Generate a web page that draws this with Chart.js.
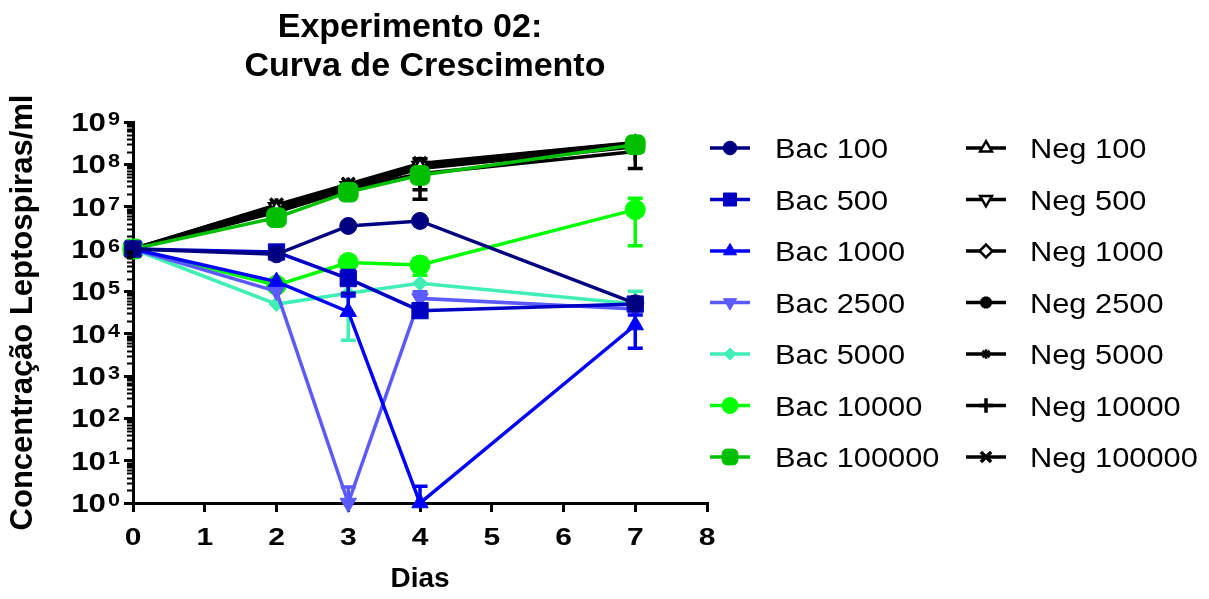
<!DOCTYPE html>
<html>
<head>
<meta charset="utf-8">
<title>Experimento 02: Curva de Crescimento</title>
<script src="https://cdn.jsdelivr.net/npm/chart.js@4.4.1/dist/chart.umd.min.js"></script>
<style>
  html, body { margin: 0; padding: 0; background: #ffffff; }
  #wrap { width: 1209px; height: 599px; }
</style>
</head>
<body>
<div id="wrap"><canvas id="growth" width="1209" height="599"></canvas></div>
<script>
// ---- data ---------------------------------------------------------------
const days = [0, 2, 3, 4, 7];
const xTickValues = [0, 1, 2, 3, 4, 5, 6, 7, 8];
const yDecades = [0, 1, 2, 3, 4, 5, 6, 7, 8, 9];
const titleLines = ['Experimento 02:', 'Curva de Crescimento'];
const xTitle = 'Dias';
const yTitle = 'Concentração Leptospiras/ml';

const bac100    = [1e6, 7.5e5, 3.5e6, 4.6e6, 5.2e4];
const bac500    = [1e6, 8.5e5, 2.0e5, 3.5e4, 5.0e4];
const bac1000   = [1e6, 1.7e5, 3.3e4, 1, 1.6e4];
const bac2500   = [1e6, 1.0e5, 1, 6.8e4, 3.8e4];
const bac5000   = [1e6, 5.0e4, 9.0e4, 1.55e5, 5.0e4];
const bac10000  = [1e6, 1.4e5, 4.8e5, 4.2e5, 8.5e6];
const bac100000 = [1e6, 5.5e6, 2.2e7, 5.5e7, 2.9e8];
const neg100    = [1e6, 8.5e6, 2.8e7, 8.5e7, 3.0e8];
const neg500    = [1e6, 9.5e6, 3.0e7, 9.0e7, 2.8e8];
const neg1000   = [1e6, 7.5e6, 2.5e7, 8.0e7, 2.6e8];
const neg2500   = [1e6, 1.05e7, 3.2e7, 1.0e8, 3.2e8];
const neg5000   = [1e6, 9.0e6, 2.9e7, 9.5e7, 3.1e8];
const neg10000  = [1e6, 8.0e6, 2.6e7, 6.0e7, 2.0e8];
const neg100000 = [1e6, 1.1e7, 3.4e7, 1.05e8, 3.3e8];

// standard deviations per day (0 = no bar drawn)
const bac500Sd   = [0, 0, 1.1e5, 0, 0];
const bac1000Sd  = [0, 0, 4.5e4, 1.5, 1.15e4];
const bac2500Sd  = [0, 0, 1.4, 3.0e4, 0];
const bac5000Sd  = [0, 0, 8.3e4, 0, 5.0e4];
const bac10000Sd = [0, 0, 1.8e5, 1.8e5, 7.3e6];
const neg1000Sd  = [0, 0, 0, 5.5e7, 0];
const neg10000Sd = [0, 0, 0, 4.5e7, 1.2e8];

// ---- series appearance --------------------------------------------------
const series = [
  { label: 'Bac 100',    data: bac100,    sd: null,       color: '#000080', style: 'circle',      r: 8.5, rot: 0,   fill: true },
  { label: 'Bac 500',    data: bac500,    sd: bac500Sd,   color: '#0000c4', style: 'rect',        r: 11.5, rot: 0,  fill: true },
  { label: 'Bac 1000',   data: bac1000,   sd: bac1000Sd,  color: '#0000ff', style: 'triangle',    r: 9.5, rot: 0,   fill: true },
  { label: 'Bac 2500',   data: bac2500,   sd: bac2500Sd,  color: '#5a5aff', style: 'triangle',    r: 9.5, rot: 180, fill: true },
  { label: 'Bac 5000',   data: bac5000,   sd: bac5000Sd,  color: '#40efb4', style: 'rectRot',     r: 7.5, rot: 0,   fill: true },
  { label: 'Bac 10000',  data: bac10000,  sd: bac10000Sd, color: '#00ff00', style: 'circle',      r: 10,  rot: 0,   fill: true },
  { label: 'Bac 100000', data: bac100000, sd: null,       color: '#00bf00', style: 'rectRounded', r: 11.5, rot: 0,  fill: true },
  { label: 'Neg 100',    data: neg100,    sd: null,       color: '#000000', style: 'triangle',    r: 8.5, rot: 0,   fill: false },
  { label: 'Neg 500',    data: neg500,    sd: null,       color: '#000000', style: 'triangle',    r: 8.5, rot: 180, fill: false },
  { label: 'Neg 1000',   data: neg1000,   sd: neg1000Sd,  color: '#000000', style: 'rectRot',     r: 8,   rot: 0,   fill: false },
  { label: 'Neg 2500',   data: neg2500,   sd: null,       color: '#000000', style: 'star',        r: 7.5, rot: 0,   fill: true, bw: 4 },
  { label: 'Neg 5000',   data: neg5000,   sd: null,       color: '#000000', style: 'star',        r: 6,   rot: 0,   fill: true, bw: 2.5 },
  { label: 'Neg 10000',  data: neg10000,  sd: neg10000Sd, color: '#000000', style: 'cross',       r: 9,   rot: 0,   fill: true, bw: 3.5 },
  { label: 'Neg 100000', data: neg100000, sd: null,       color: '#000000', style: 'crossRot',    r: 9,   rot: 0,   fill: true, bw: 3.5 }
];

const FAMILY = "'Liberation Sans', Arial, Helvetica, sans-serif";
const LINE_W = 3.5;

// text with horizontal stretch
function drawText(ctx, text, x, y, font, sx, align) {
  ctx.save();
  ctx.font = font;
  ctx.textBaseline = 'alphabetic';
  ctx.textAlign = 'left';
  const w = ctx.measureText(text).width * sx;
  const left = align === 'center' ? x - w / 2 : (align === 'right' ? x - w : x);
  ctx.translate(left, y);
  ctx.scale(sx, 1);
  ctx.fillStyle = '#000';
  ctx.fillText(text, 0, 0);
  ctx.restore();
  return w;
}

function markerOptions(s, scale) {
  return {
    pointStyle: s.style,
    rotation: s.rot,
    radius: s.r * scale,
    borderWidth: s.bw || (s.fill ? 1 : 2.5)
  };
}

function paintMarker(ctx, s, x, y, scale) {
  ctx.save();
  ctx.fillStyle = s.fill ? s.color : '#ffffff';
  ctx.strokeStyle = s.color;
  const opts = markerOptions(s, scale);
  ctx.lineWidth = opts.borderWidth;
  Chart.helpers.drawPoint(ctx, opts, x, y);
  ctx.restore();
}

const decorations = {
  id: 'decorations',
  // error bars sit underneath each series' own line and markers
  beforeDatasetDraw(chart, args) {
    const s = series[args.index];
    if (!s || !s.sd) return;
    const ctx = chart.ctx;
    const xs = chart.scales.x, ys = chart.scales.y;
    ctx.save();
    ctx.strokeStyle = s.color;
    ctx.lineWidth = LINE_W;
    ctx.beginPath();
    s.data.forEach((v, j) => {
      const e = s.sd[j];
      if (!e) return;
      const x = xs.getPixelForValue(days[j]);
      const yMid = ys.getPixelForValue(v);
      const yTop = ys.getPixelForValue(v + e);
      const hasLow = v - e > 0;
      const yLow = hasLow ? ys.getPixelForValue(v - e) : yMid;
      ctx.moveTo(x, yTop); ctx.lineTo(x, yLow);
      ctx.moveTo(x - 7.5, yTop); ctx.lineTo(x + 7.5, yTop);
      if (hasLow) { ctx.moveTo(x - 7.5, yLow); ctx.lineTo(x + 7.5, yLow); }
    });
    ctx.stroke();
    ctx.restore();
  },
  afterDraw(chart) {
    const ctx = chart.ctx;
    const xs = chart.scales.x, ys = chart.scales.y;
    const area = chart.chartArea;

    // minor log ticks
    ctx.save();
    ctx.strokeStyle = '#000';
    ctx.lineWidth = 2;
    ctx.beginPath();
    yDecades.slice(0, -1).forEach(d => {
      for (let m = 2; m <= 9; m++) {
        const y = Math.round(ys.getPixelForValue(m * Math.pow(10, d))) + 0.5;
        ctx.moveTo(area.left - 6, y);
        ctx.lineTo(area.left, y);
      }
    });
    ctx.stroke();
    ctx.restore();

    // y tick labels: 10 with superscript exponent
    yDecades.forEach(d => {
      const y = ys.getPixelForValue(Math.pow(10, d));
      ctx.save();
      ctx.font = 'bold 18px ' + FAMILY;
      const ew = ctx.measureText(String(d)).width * 1.2;
      ctx.restore();
      const expLeft = area.left - 13 - ew;
      drawText(ctx, String(d), expLeft, y + 3, 'bold 18px ' + FAMILY, 1.2, 'left');
      drawText(ctx, '10', expLeft - 2, y + 9, 'bold 25px ' + FAMILY, 1.25, 'right');
    });

    // x tick labels
    xTickValues.forEach(v => {
      drawText(ctx, String(v), xs.getPixelForValue(v), area.bottom + 42, 'bold 24px ' + FAMILY, 1.25, 'center');
    });

    // title
    const mid = (area.left + area.right) / 2;
    drawText(ctx, titleLines[0], mid - 10, 37, 'bold 34px ' + FAMILY, 1, 'center');
    drawText(ctx, titleLines[1], mid + 5, 76, 'bold 34px ' + FAMILY, 1, 'center');

    // legend: two columns of line + marker + label
    const colLine = [710, 966];
    const colText = [775, 1030];
    series.forEach((s, i) => {
      const col = i < 7 ? 0 : 1;
      const row = i % 7;
      const y = 148 + row * 51.5;
      const x0 = colLine[col];
      ctx.save();
      ctx.strokeStyle = s.color;
      ctx.lineWidth = LINE_W;
      ctx.beginPath();
      ctx.moveTo(x0, y);
      ctx.lineTo(x0 + 40, y);
      ctx.stroke();
      ctx.restore();
      paintMarker(ctx, s, x0 + 20, y, 0.8);
      drawText(ctx, s.label, colText[col], y + 10, '28px ' + FAMILY, 1.1, 'left');
    });
  }
};

const datasets = series.map(s => ({
  label: s.label,
  data: s.data.map((v, j) => ({ x: days[j], y: v })),
  borderColor: s.color,
  backgroundColor: s.fill ? s.color : '#ffffff',
  borderWidth: LINE_W,
  tension: 0,
  clip: false,
  pointStyle: s.style,
  pointRotation: s.rot,
  pointRadius: s.r,
  pointHoverRadius: s.r,
  pointBackgroundColor: s.fill ? s.color : '#ffffff',
  pointBorderColor: s.color,
  pointBorderWidth: s.bw || (s.fill ? 1 : 2.5)
}));

const axisGrid = { drawOnChartArea: false, drawTicks: true, tickLength: 9, lineWidth: 3, color: '#000' };
const axisBorder = { display: true, width: 3, color: '#000' };

new Chart(document.getElementById('growth'), {
  type: 'line',
  data: { datasets },
  plugins: [decorations],
  options: {
    responsive: false,
    devicePixelRatio: 1,
    animation: false,
    events: [],
    layout: { padding: { top: 122, right: 502, bottom: 0, left: 0 } },
    plugins: { legend: { display: false }, title: { display: false }, tooltip: { enabled: false } },
    scales: {
      x: {
        type: 'linear',
        min: 0,
        max: 8,
        afterBuildTicks: s => { s.ticks = xTickValues.map(v => ({ value: v })); },
        afterFit: s => { s.height = 96; },
        ticks: { display: false },
        grid: axisGrid,
        border: axisBorder,
        title: { display: true, text: xTitle, color: '#000', font: { family: FAMILY, size: 28, weight: 'bold' }, padding: { top: 0, bottom: 3 } }
      },
      y: {
        type: 'logarithmic',
        min: 1,
        max: 1e9,
        afterBuildTicks: s => { s.ticks = yDecades.map(d => ({ value: Math.pow(10, d), major: true })); },
        afterFit: s => { s.width = 133; },
        ticks: { display: false },
        grid: axisGrid,
        border: axisBorder,
        title: { display: true, text: yTitle, color: '#000', font: { family: FAMILY, size: 31, weight: 'bold' }, padding: { top: 5, bottom: 0 } }
      }
    }
  }
});
</script>
</body>
</html>
